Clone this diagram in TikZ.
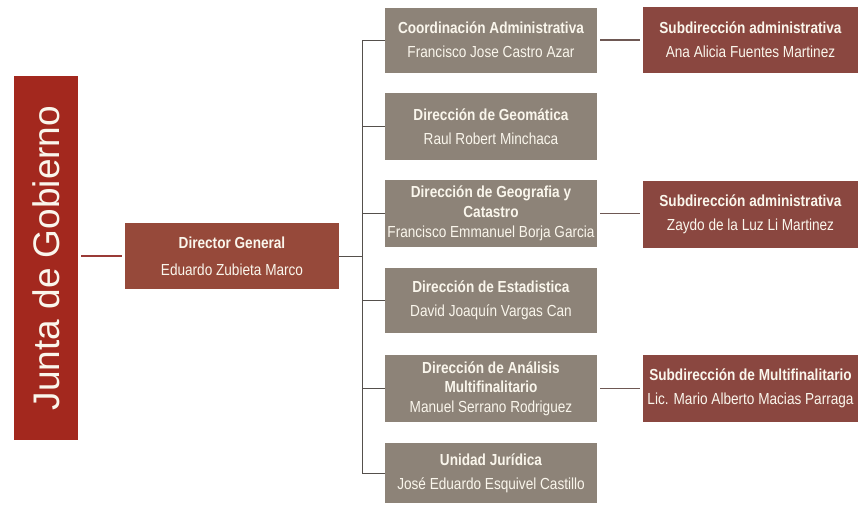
\documentclass[tikz,border=0pt]{standalone}
\usepackage{fontspec}
\setmainfont{Liberation Sans}[FakeStretch=0.85]
\newfontfamily\juntafont{Liberation Sans}
\definecolor{juntared}{HTML}{A3281E}
\definecolor{dgbrown}{HTML}{96493A}
\definecolor{boxgray}{HTML}{8D8378}
\definecolor{subred}{HTML}{8A4740}
\definecolor{linered}{HTML}{9A3A36}
\definecolor{linegray}{HTML}{55504C}
\definecolor{linesub}{HTML}{6E5854}
\definecolor{txt}{HTML}{FAF6EC}
\begin{document}
\begin{tikzpicture}[x=1pt,y=-1pt,
  orgbox/.style={rectangle, inner sep=0pt, align=center, text=txt,
     font=\fontsize{16}{19}\selectfont},
  graybox/.style={orgbox, fill=boxgray, minimum width=212},
  subbox/.style={orgbox, fill=subred, minimum width=215},
  redline/.style={draw=linered, line width=1.2pt, shorten <=3pt, shorten >=3pt},
  subline/.style={draw=linesub, line width=1.2pt, shorten <=3pt, shorten >=3pt},
  grayline/.style={draw=linegray, line width=0.8pt}]
\useasboundingbox (0,0) rectangle (859,504);
\fill[white] (0,0) rectangle (859,504);

\node[rectangle, fill=juntared, minimum width=64, minimum height=364, inner sep=0pt] (junta) at (46,258) {};
\node[rotate=90, text=txt, font=\juntafont\fontsize{37}{40}\selectfont] (juntatxt) at (46,258) {Junta de Gobierno};

\node[orgbox, fill=dgbrown, minimum width=214, minimum height=66] (dg) at (232,256)
  {\textbf{Director General}\\[8pt]Eduardo Zubieta Marco};

\node[graybox, minimum height=65] (g1) at (491,40)
  {\textbf{Coordinación Administrativa}\\[5pt]Francisco Jose Castro Azar};
\node[graybox, minimum height=67] (g2) at (491,126.5)
  {\textbf{Dirección de Geomática}\\[5pt]Raul Robert Minchaca};
\node[graybox, minimum height=67] (g3) at (491,213.5)
  {\textbf{Dirección de Geografia y}\\[1pt]\textbf{Catastro}\\[1pt]Francisco Emmanuel Borja Garcia};
\node[graybox, minimum height=65] (g4) at (491,300.5)
  {\textbf{Dirección de Estadistica}\\[5pt]David Joaquín Vargas Can};
\node[graybox, minimum height=67] (g5) at (491,388.5)
  {\textbf{Dirección de Análisis}\\[0pt]\textbf{Multifinalitario}\\[1pt]Manuel Serrano Rodriguez};
\node[graybox, minimum height=60] (g6) at (491,473)
  {\textbf{Unidad Jurídica}\\[5pt]José Eduardo Esquivel Castillo};

\node[subbox, minimum height=66] (r1) at (750.5,40)
  {\textbf{Subdirección administrativa}\\[5pt]Ana Alicia Fuentes Martinez};
\node[subbox, minimum height=67] (r2) at (750.5,214.5)
  {\textbf{Subdirección administrativa}\\[5pt]Zaydo de la Luz Li Martinez};
\node[subbox, minimum height=67] (r3) at (750.5,388.5)
  {\textbf{Subdirección de Multifinalitario}\\[5pt]Lic. Mario Alberto Macias Parraga};

\coordinate (sp) at (362,0);
\draw[redline] (junta.east |- dg.west) -- (dg.west);
\draw[grayline] (dg.east) -- (dg.east -| sp);
\draw[grayline] (g1.west) -- (g1.west -| sp) -- (g6.west -| sp) -- (g6.west);
\foreach \b in {g2,g3,g4,g5} \draw[grayline] (\b.west) -- (\b.west -| sp);
\draw[subline] (g1.east) -- (g1.east -| r1.west);
\draw[subline] (g3.east) -- (g3.east -| r2.west);
\draw[subline] (g5.east) -- (g5.east -| r3.west);
\end{tikzpicture}
\end{document}
